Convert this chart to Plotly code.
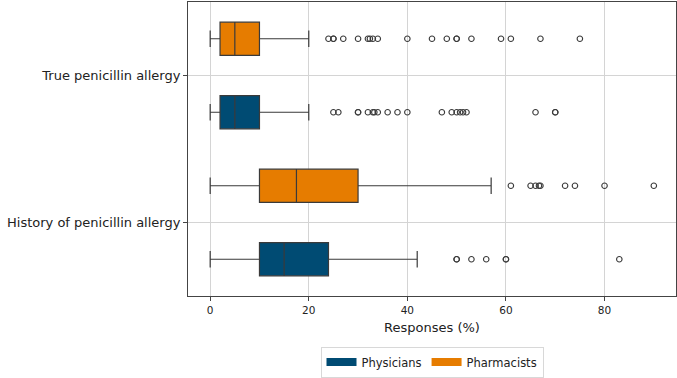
import plotly.graph_objects as go

categories = ["History of penicillin allergy", "True penicillin allergy"]
groups = ["Physicians", "Pharmacists"]
colors = {"Physicians": "#004B73", "Pharmacists": "#E67C00"}

# box statistics per group, order follows categories
stats = {
    "Physicians": {
        "lowerfence": [0, 0],
        "q1": [10, 2],
        "median": [15, 5],
        "q3": [24, 10],
        "upperfence": [42, 20],
    },
    "Pharmacists": {
        "lowerfence": [0, 0],
        "q1": [10, 2],
        "median": [17.5, 5],
        "q3": [30, 10],
        "upperfence": [57, 20],
    },
}

outliers = {
    "Physicians": [
        [50, 50, 53, 56, 60, 60, 83],
        [25, 26, 30, 30, 32, 33, 33.3, 34, 36, 38, 40, 47, 49, 50, 50.7, 51.3, 52, 66, 70, 70],
    ],
    "Pharmacists": [
        [61, 65, 66, 66.7, 67, 72, 74, 80, 90],
        [24, 25, 25, 27, 30, 32, 32.4, 33, 34, 40, 45, 48, 50, 50, 53, 59, 61, 67, 75],
    ],
}

offsets = {"Physicians": -0.25, "Pharmacists": 0.25}
box_width = 0.225
line_col = "#3a3a3a"

fig = go.Figure()

for g in groups:
    ypos = [i + offsets[g] for i in range(len(categories))]
    s = stats[g]
    fig.add_trace(go.Box(
        y=ypos,
        q1=s["q1"], median=s["median"], q3=s["q3"],
        lowerfence=s["lowerfence"], upperfence=s["upperfence"],
        orientation="h",
        width=box_width,
        whiskerwidth=0.5,
        fillcolor=colors[g],
        line=dict(color=line_col, width=1.2),
        showlegend=False,
        hoverinfo="skip",
    ))
    for i, vals in enumerate(outliers[g]):
        fig.add_trace(go.Scatter(
            x=vals, y=[i + offsets[g]] * len(vals),
            mode="markers",
            marker=dict(symbol="circle-open", size=5.5, color=line_col, line=dict(width=1.1)),
            showlegend=False,
            hoverinfo="skip",
        ))

# legend entries
for g in groups:
    fig.add_trace(go.Scatter(
        x=[None], y=[None], mode="lines",
        line=dict(color=colors[g], width=8),
        name=g,
    ))

fig.update_layout(
    width=677, height=378,
    margin=dict(l=188, r=1, t=2, b=74),
    paper_bgcolor="white",
    plot_bgcolor="white",
    font=dict(family="DejaVu Sans", color="#222"),
    legend=dict(
        orientation="h",
        x=0.5, xanchor="center",
        y=-0.172, yanchor="top",
        bordercolor="#d8d8d8", borderwidth=1,
        font=dict(size=11.5),
        itemwidth=30,
        traceorder="normal",
    ),
)

fig.update_xaxes(
    range=[-4.5, 94.5],
    tickvals=[0, 20, 40, 60, 80],
    tickfont=dict(size=10.5),
    showgrid=True, gridcolor="#d4d4d4", gridwidth=1,
    zeroline=False,
    showline=True, linecolor="#444", linewidth=1, mirror=True,
    ticks="outside", ticklen=4, tickcolor="#444",
    title=dict(text="Responses (%)", font=dict(size=13), standoff=8),
)
fig.update_yaxes(
    range=[-0.5, 1.5],
    tickvals=list(range(len(categories))),
    ticktext=categories,
    tickfont=dict(size=13),
    showgrid=True, gridcolor="#d4d4d4", gridwidth=1,
    zeroline=False,
    showline=True, linecolor="#444", linewidth=1, mirror=True,
    ticks="outside", ticklen=4, tickcolor="#444",
)

fig.write_html("out.html")
